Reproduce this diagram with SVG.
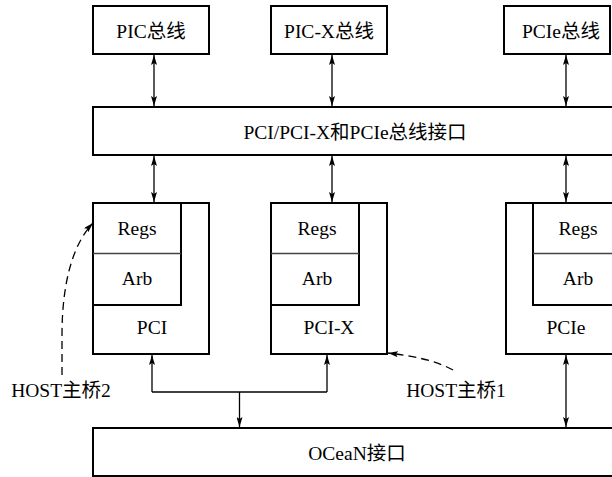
<svg xmlns="http://www.w3.org/2000/svg" width="612" height="477" viewBox="0 0 612 477">
<defs>
<marker id="ah" viewBox="0 0 10 6" refX="10" refY="3" markerWidth="10" markerHeight="6" markerUnits="userSpaceOnUse" orient="auto-start-reverse">
<path d="M0,0 L10,3 L0,6 L2,3 Z" fill="#000"/>
</marker>
</defs>
<style>
.box{fill:#fff;stroke:#000;stroke-width:2}
.inner{fill:none;stroke:#000;stroke-width:2}
.div{stroke:#444;stroke-width:1.6}
.t{font-family:"Liberation Serif","Noto Sans CJK SC",serif;font-size:19.5px;fill:#000;text-anchor:middle;dominant-baseline:central}
.c{fill:none;stroke:#000;stroke-width:1.3}
.d{fill:none;stroke:#000;stroke-width:1.3;stroke-dasharray:8,5}
</style>
<g id="pic">
<rect class="box" x="93" y="6" width="116" height="48"/>
<text class="t" x="151" y="31">PIC总线</text>
</g>
<g id="picx">
<rect class="box" x="271" y="6" width="116" height="48"/>
<text class="t" x="329" y="31">PIC-X总线</text>
</g>
<g id="pcie-bus">
<rect class="box" x="504" y="6" width="106" height="48"/>
<text class="t" x="561" y="31">PCIe总线</text>
</g>
<g id="iface">
<rect class="box" x="93" y="107" width="525" height="48"/>
<text class="t" x="355" y="132">PCI/PCI-X和PCIe总线接口</text>
</g>
<g id="pci">
<rect class="box" x="93" y="203" width="116" height="151"/>
<rect class="inner" x="93" y="203" width="88" height="102"/>
<line class="div" x1="93" y1="253.5" x2="181" y2="253.5"/>
<text class="t" x="137" y="228">Regs</text>
<text class="t" x="137" y="278">Arb</text>
<text class="t" x="152" y="327">PCI</text>
</g>
<g id="pcix">
<rect class="box" x="271" y="203" width="116" height="151"/>
<rect class="inner" x="271" y="203" width="88" height="102"/>
<line class="div" x1="271" y1="253.5" x2="359" y2="253.5"/>
<text class="t" x="317" y="228">Regs</text>
<text class="t" x="317" y="278">Arb</text>
<text class="t" x="329" y="327">PCI-X</text>
</g>
<g id="pcie">
<rect class="box" x="506" y="203" width="116" height="151"/>
<rect class="inner" x="533" y="203" width="88" height="102"/>
<line class="div" x1="533" y1="253.5" x2="621" y2="253.5"/>
<text class="t" x="578" y="228">Regs</text>
<text class="t" x="578" y="278">Arb</text>
<text class="t" x="566" y="327">PCIe</text>
</g>
<g id="ocean">
<rect class="box" x="93" y="428" width="525" height="48"/>
<text class="t" x="357" y="453">OCeaN接口</text>
</g>
<g id="host2">
<text class="t" x="61" y="390">HOST主桥2</text>
</g>
<g id="host1">
<text class="t" x="456" y="390">HOST主桥1</text>
</g>
<g id="connectors">
<line class="c" x1="154" y1="55" x2="154" y2="106" marker-start="url(#ah)" marker-end="url(#ah)"/>
<line class="c" x1="332" y1="55" x2="332" y2="106" marker-start="url(#ah)" marker-end="url(#ah)"/>
<line class="c" x1="566" y1="55" x2="566" y2="106" marker-start="url(#ah)" marker-end="url(#ah)"/>
<line class="c" x1="154" y1="156" x2="154" y2="202" marker-start="url(#ah)" marker-end="url(#ah)"/>
<line class="c" x1="332" y1="156" x2="332" y2="202" marker-start="url(#ah)" marker-end="url(#ah)"/>
<line class="c" x1="566" y1="156" x2="566" y2="202" marker-start="url(#ah)" marker-end="url(#ah)"/>
<path class="c" d="M152,392 L327,392"/>
<line class="c" x1="152" y1="392" x2="152" y2="355" marker-end="url(#ah)"/>
<line class="c" x1="327" y1="392" x2="327" y2="355" marker-end="url(#ah)"/>
<line class="c" x1="239.5" y1="392" x2="239.5" y2="427" marker-end="url(#ah)"/>
<line class="c" x1="566" y1="355" x2="566" y2="427" marker-start="url(#ah)" marker-end="url(#ah)"/>
<path class="d" d="M62,375 L62,335 C62,285 72,245 93,223" marker-end="url(#ah)"/>
<path class="d" d="M453,370 C435,360 412,356 388,353" marker-end="url(#ah)"/>
</g>
</svg>
